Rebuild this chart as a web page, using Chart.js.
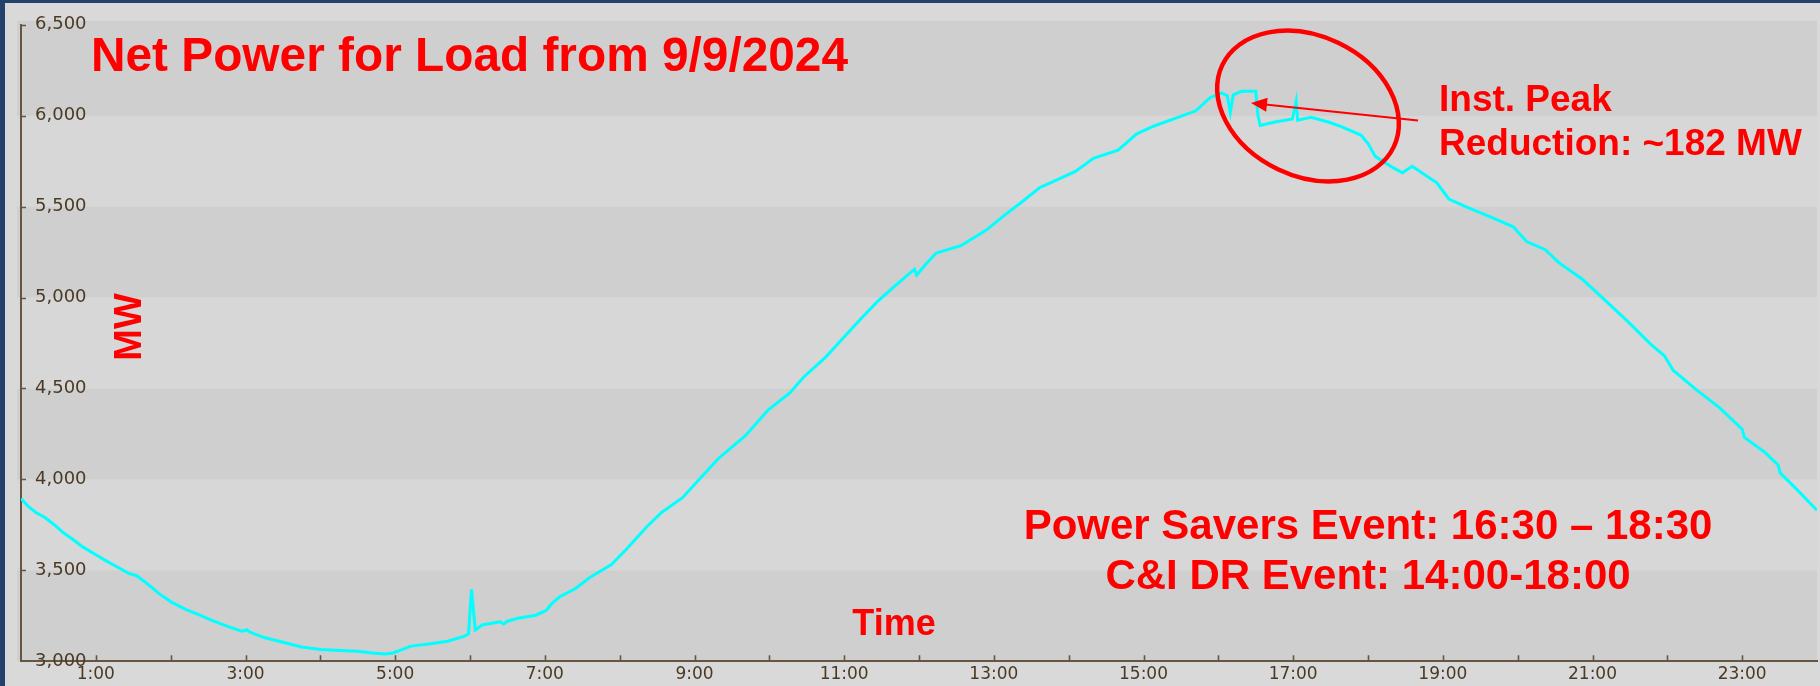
<!DOCTYPE html>
<html>
<head>
<meta charset="utf-8">
<script src="https://cdn.jsdelivr.net/npm/chart.js@4.4.1/dist/chart.umd.min.js"></script>
<style>
  html, body { margin: 0; padding: 0; background: #d9d9d9; }
  #wrap { position: relative; width: 1820px; height: 686px; overflow: hidden; background: #d9d9d9; }
  #wrap canvas { position: absolute; left: 0; top: 0; }
  .frame-top { position: absolute; left: 0; top: 0; width: 1820px; height: 3px; background: #23416b; }
  .frame-left { position: absolute; left: 0; top: 0; width: 5px; height: 686px; background: #23416b; }
</style>
</head>
<body>
<div id="wrap">
  <canvas id="loadChart" width="1820" height="686"></canvas>
  <div class="frame-top"></div>
  <div class="frame-left"></div>
</div>
<script>
// hour of day (decimal) and net load in MW
var hours = [0.00, 0.10, 0.20, 0.32, 0.44, 0.58, 0.70, 0.82, 1.00, 1.15,
             1.30, 1.44, 1.55, 1.72, 1.85, 2.01, 2.20, 2.39, 2.55, 2.77,
             2.95, 3.02, 3.06, 3.25, 3.54, 3.75, 4.01, 4.20, 4.49, 4.70,
             4.87, 4.97, 5.10, 5.21, 5.45, 5.70, 5.92, 5.98, 6.02, 6.07,
             6.16, 6.40, 6.45, 6.50, 6.64, 6.88, 7.02, 7.10, 7.20, 7.41,
             7.60, 7.89, 8.08, 8.36, 8.56, 8.84, 9.08, 9.32, 9.68, 9.99,
             10.27, 10.46, 10.75, 10.99, 11.23, 11.44, 11.66, 11.94, 11.97, 12.09,
             12.23, 12.56, 12.90, 13.14, 13.37, 13.61, 13.85, 14.09, 14.33, 14.66,
             14.91, 15.15, 15.46, 15.70, 15.89, 16.04, 16.12, 16.16, 16.20, 16.31,
             16.50, 16.53, 16.56, 16.74, 16.99, 17.04, 17.06, 17.24, 17.48, 17.66,
             17.91, 18.00, 18.10, 18.34, 18.46, 18.59, 18.92, 19.08, 19.32, 19.69,
             19.94, 20.12, 20.37, 20.55, 20.86, 21.17, 21.47, 21.78, 21.96, 22.08,
             22.39, 22.70, 23.00, 23.03, 23.30, 23.48, 23.51, 23.71, 24.00];
var loadMW = [3895, 3850, 3818, 3790, 3752, 3702, 3668, 3630, 3585, 3549,
              3515, 3483, 3470, 3415, 3370, 3325, 3285, 3253, 3225, 3190,
              3165, 3172, 3160, 3130, 3100, 3078, 3064, 3060, 3055, 3045,
              3040, 3045, 3065, 3083, 3095, 3110, 3136, 3150, 3395, 3172,
              3199, 3217, 3205, 3220, 3236, 3253, 3280, 3320, 3355, 3400,
              3460, 3531, 3612, 3738, 3818, 3899, 4007, 4115, 4240, 4384,
              4474, 4563, 4671, 4779, 4886, 4976, 5057, 5156, 5124, 5183,
              5245, 5285, 5371, 5452, 5524, 5604, 5649, 5694, 5766, 5811,
              5900, 5945, 5991, 6027, 6099, 6125, 6110, 6018, 6115, 6134,
              6134, 6000, 5946, 5964, 5982, 6080, 5975, 5991, 5964, 5937,
              5892, 5847, 5775, 5713, 5686, 5722, 5631, 5542, 5497, 5434,
              5389, 5308, 5263, 5192, 5102, 4985, 4869, 4743, 4680, 4599,
              4492, 4393, 4276, 4231, 4150, 4079, 4034, 3953, 3830];
var timeLabels = ['1:00', '3:00', '5:00', '7:00', '9:00', '11:00',
                  '13:00', '15:00', '17:00', '19:00', '21:00', '23:00'];
var mwTicks = [3000, 3500, 4000, 4500, 5000, 5500, 6000, 6500];

var points = hours.map(function(h, i) { return {x: h, y: loadMW[i]}; });

var axisColor = '#665540';
var labelColor = '#4a3a25';
var redFont = '"Liberation Sans", Arial, sans-serif';

// alternating grey bands between the MW ticks
var bandsPlugin = {
    id: 'bands',
    beforeDraw: function(chart) {
        var c = chart.ctx, a = chart.chartArea, y = chart.scales.y;
        c.save();
        for (var i = 0; i < mwTicks.length - 1; i++) {
            var top = y.getPixelForValue(mwTicks[i + 1]);
            var bot = y.getPixelForValue(mwTicks[i]);
            if (i === mwTicks.length - 2) top -= 4;
            c.fillStyle = (i % 2 === 0) ? '#cfcfcf' : '#d7d7d7';
            c.fillRect(a.left - 4, top, a.right - a.left + 4, bot - top);
        }
        c.restore();
    }
};

// small tick marks pointing into the plot
var innerTicksPlugin = {
    id: 'innerTicks',
    beforeDatasetsDraw: function(chart) {
        var c = chart.ctx, a = chart.chartArea, x = chart.scales.x, y = chart.scales.y;
        c.save();
        c.strokeStyle = axisColor;
        c.lineWidth = 1.6;
        c.beginPath();
        for (var h = 1; h < 24; h++) {
            var px = Math.round(x.getPixelForValue(h)) + 0.5;
            c.moveTo(px, a.bottom);
            c.lineTo(px, a.bottom - 6);
        }
        mwTicks.slice(1).forEach(function(v) {
            var py = Math.round(y.getPixelForValue(v)) + 0.5;
            c.moveTo(a.left, py);
            c.lineTo(a.left + 5, py);
        });
        c.stroke();
        c.restore();
    }
};

// red slide annotations
var notesPlugin = {
    id: 'notes',
    afterDraw: function(chart) {
        var c = chart.ctx;
        c.save();
        c.fillStyle = '#ff0000';
        c.strokeStyle = '#ff0000';

        c.font = 'bold 47.8px ' + redFont;
        c.textAlign = 'left';
        c.textBaseline = 'alphabetic';
        c.fillText('Net Power for Load from 9/9/2024', 91, 71);

        c.save();
        c.translate(127, 327);
        c.rotate(-Math.PI / 2);
        c.font = 'bold 38px ' + redFont;
        c.textAlign = 'center';
        c.fillText('MW', 0, 13.6);
        c.restore();

        c.font = 'bold 36px ' + redFont;
        c.textAlign = 'center';
        c.fillText('Time', 894, 635);

        c.font = 'bold 42px ' + redFont;
        c.fillText('Power Savers Event: 16:30 \u2013 18:30', 1368, 539);
        c.fillText('C&I DR Event: 14:00-18:00', 1368, 589);

        c.font = 'bold 37px ' + redFont;
        c.textAlign = 'left';
        c.fillText('Inst. Peak', 1439, 111);
        c.fillText('Reduction: ~182 MW', 1439, 155);

        c.lineWidth = 4.5;
        c.beginPath();
        c.ellipse(1308, 106, 95, 70, 25.5 * Math.PI / 180, 0, Math.PI * 2);
        c.stroke();

        var x0 = 1418, y0 = 120.5, x1 = 1251, y1 = 103;
        var ang = Math.atan2(y1 - y0, x1 - x0);
        c.lineWidth = 2;
        c.beginPath();
        c.moveTo(x0, y0);
        c.lineTo(x1 - 12 * Math.cos(ang), y1 - 12 * Math.sin(ang));
        c.stroke();
        c.beginPath();
        c.moveTo(x1, y1);
        c.lineTo(x1 - 16 * Math.cos(ang) + 7 * Math.sin(ang), y1 - 16 * Math.sin(ang) - 7 * Math.cos(ang));
        c.lineTo(x1 - 16 * Math.cos(ang) - 7 * Math.sin(ang), y1 - 16 * Math.sin(ang) + 7 * Math.cos(ang));
        c.closePath();
        c.fill();
        c.restore();
    }
};

var ctx = document.getElementById('loadChart').getContext('2d');
window.loadChart = new Chart(ctx, {
    type: 'line',
    data: {
        datasets: [{
            label: 'Net Power for Load',
            data: points,
            borderColor: '#00ffff',
            borderWidth: 3,
            pointRadius: 0,
            tension: 0,
            fill: false
        }]
    },
    options: {
        responsive: false,
        animation: false,
        devicePixelRatio: 1,
        layout: { padding: { left: 21, top: 17, right: 3, bottom: 0 } },
        plugins: { legend: { display: false }, tooltip: { enabled: false } },
        scales: {
            x: {
                type: 'linear',
                min: 0,
                max: 24,
                afterFit: function(s) { s.height = 19; },
                grid: { display: false, drawTicks: false },
                border: { display: true, color: axisColor, width: 2 },
                ticks: {
                    stepSize: 1,
                    autoSkip: false,
                    maxRotation: 0,
                    padding: 3,
                    color: labelColor,
                    font: { family: 'DejaVu Sans', size: 17 },
                    callback: function(v) {
                        return (v % 2 === 1) ? timeLabels[(v - 1) / 2] : '';
                    }
                }
            },
            y: {
                min: 3000,
                max: 6500,
                afterFit: function(s) { s.width = 0; },
                grid: { display: false, drawTicks: false },
                border: { display: true, color: axisColor, width: 2 },
                ticks: {
                    stepSize: 500,
                    mirror: true,
                    padding: 14,
                    color: labelColor,
                    font: { family: 'DejaVu Sans', size: 18 },
                    callback: function(v) { return v.toLocaleString('en-US'); }
                }
            }
        }
    },
    plugins: [bandsPlugin, innerTicksPlugin, notesPlugin]
});
</script>
</body>
</html>
